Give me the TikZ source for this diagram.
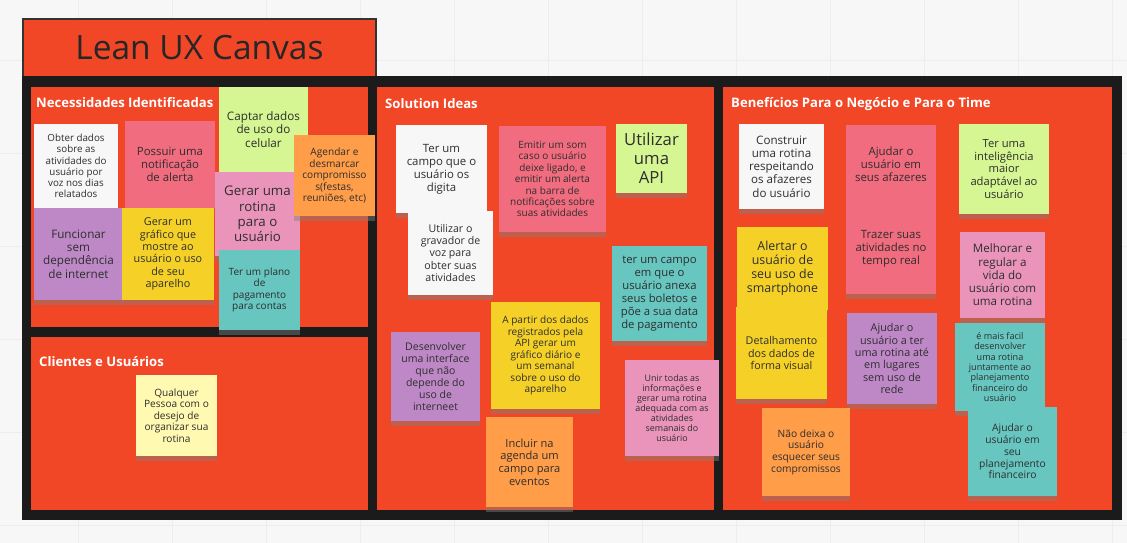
\documentclass[tikz,border=0pt]{standalone}
\usepackage{fontspec}
\setmainfont{Open Sans}
\usetikzlibrary{shadows}
\definecolor{miroRed}{HTML}{F24726}
\definecolor{frameDark}{HTML}{1B1B1B}
\definecolor{noteText}{HTML}{2E2E2E}
\definecolor{noteWhite}{HTML}{F7F7F7}
\definecolor{notePink}{HTML}{F16C7F}
\definecolor{noteRose}{HTML}{EA94BB}
\definecolor{noteViolet}{HTML}{BE88C7}
\definecolor{noteYellow}{HTML}{F5D128}
\definecolor{noteGreen}{HTML}{D5F692}
\definecolor{noteOrange}{HTML}{FF9D48}
\definecolor{noteTeal}{HTML}{67C6C0}
\definecolor{noteCream}{HTML}{FFF9B1}
\tikzset {
    fs/.style 2 args={font=\fontsize{#1}{#2}\selectfont},
    note/.style={
        rectangle, % sticky note
        draw=none,
        minimum width=88pt,
        minimum height=88pt,
        inner sep=2pt,
        align=center,
        text=noteText,
        fs={10}{11.5},
        drop shadow={shadow xshift=0pt, shadow yshift=-5pt, opacity=.45},
    },
    note white/.style={note, fill=noteWhite},
    note pink/.style={note, fill=notePink},
    note rose/.style={note, fill=noteRose},
    note violet/.style={note, fill=noteViolet},
    note yellow/.style={note, fill=noteYellow},
    note green/.style={note, fill=noteGreen},
    note orange/.style={note, fill=noteOrange},
    note teal/.style={note, fill=noteTeal},
    note cream/.style={note, fill=noteCream},
    panel/.style={
        rectangle,
        fill=miroRed,
        draw=none,
        anchor=north west,
        inner sep=0pt,
        outer sep=0pt,
    },
    panel title/.style={
        anchor=west,
        inner sep=0pt,
        text=white,
        font=\bfseries\fontsize{13.1}{15}\selectfont,
    },
    gridline/.style={draw=black!7, line width=.6pt},
}

\begin{document}
\begin{tikzpicture}[x=1pt, y=-1pt]
\useasboundingbox (0,0) rectangle (1127,543);
\fill[white!97!black] (0,0) rectangle (1127,543);
\foreach \gx in {78,172,...,1127} \draw[gridline] (\gx,0) -- (\gx,543);
\foreach \gy in {60,153,...,543} \draw[gridline] (0,\gy) -- (1127,\gy);

% title and frame
\node[panel, draw=black!80, line width=1.5pt, minimum width=353pt, minimum height=58pt, text=black!85, font=\fontsize{33.5}{38}\selectfont] (title) at (23,19) {Lean UX Canvas};
\node[panel, fill=frameDark, minimum width=1100pt, minimum height=444pt] (canvas) at (22,76) {};
\node[panel, minimum width=337pt, minimum height=240pt] (needs) at (31,87) {};
\node[panel, minimum width=337pt, minimum height=173pt] (clients) at (31,337) {};
\node[panel, minimum width=337pt, minimum height=423pt] (ideas) at (377,87) {};
\node[panel, minimum width=389pt, minimum height=423pt] (benefits) at (723,87) {};

\node[panel title] (needsTitle) at (36,103) {Necessidades Identificadas};
\node[panel title] (clientsTitle) at (39,362) {Clientes e Usuários};
\node[panel title] (ideasTitle) at (385,104) {Solution Ideas};
\node[panel title] (benefitsTitle) at (731,104) {Benefícios Para o Negócio e Para o Time};

% Necessidades Identificadas
\node[note white, minimum width=84pt, minimum height=84pt, fs={9.8}{11.2}] (obter) at (76,166) {Obter dados\\sobre as\\atividades do\\usuário por\\voz nos dias\\relatados};
\node[note pink, minimum width=90pt, minimum height=87pt, fs={11.4}{13}] (possuir) at (170,164.5) {Possuir uma\\notificação\\de alerta};
\node[note violet, minimum width=89pt, minimum height=92pt, fs={11.7}{13.3}] (funcionar) at (78.5,254) {Funcionar\\sem\\dependência\\de internet};
\node[note yellow, minimum width=92pt, minimum height=92pt, fs={10.8}{12.3}] (grafico) at (168,254) {Gerar um\\gráfico que\\mostre ao\\usuário o uso\\de seu\\aparelho};
\node[note green, minimum width=89pt, minimum height=85pt, fs={11.7}{13.3}] (captar) at (263.5,129.5) {Captar dados\\de uso do\\celular};
\node[note rose, minimum width=85pt, minimum height=84pt, fs={13.3}{15.2}] (rotina) at (257.5,214) {Gerar uma\\rotina\\para o\\usuário};
\node[note orange, minimum width=81pt, minimum height=81pt, fs={10.1}{11.5}] (agendar) at (334.5,175.5) {Agendar e\\desmarcar\\compromisso\\s(festas,\\reuniões, etc)};
\node[note teal, minimum width=81pt, minimum height=80pt, fs={10}{11.4}] (plano) at (259.5,290) {Ter um plano\\de\\pagamento\\para contas};

% Clientes e Usuarios
\node[note cream, minimum width=81pt, minimum height=81pt, fs={10.1}{11.5}] (qualquer) at (176.5,415.5) {Qualquer\\Pessoa com o\\desejo de\\organizar sua\\rotina};

% Solution Ideas
\node[note white, minimum width=91pt, minimum height=88pt, fs={11.4}{13}] (digita) at (441.5,169) {Ter um\\campo que o\\usuário os\\digita};
\node[note white, minimum width=85pt, minimum height=84pt, fs={10.6}{12.1}] (gravador) at (450.5,253) {Utilizar o\\gravador de\\voz para\\obter suas\\atividades};
\node[note pink, minimum width=107pt, minimum height=106pt, fs={10}{11.4}] (emitir) at (552.5,179) {Emitir um som\\caso o usuário\\deixe ligado, e\\emitir um alerta\\na barra de\\notificações sobre\\suas atividades};
\node[note green, minimum width=71pt, minimum height=69pt, fs={16.7}{19}] (api) at (651.5,158.5) {Utilizar\\uma\\API};
\node[note teal, minimum width=95pt, minimum height=95pt, fs={11.3}{12.9}] (boletos) at (659.5,293.5) {ter um campo\\em que o\\usuário anexa\\seus boletos e\\põe a sua data\\de pagamento};
\node[note yellow, minimum width=109pt, minimum height=107pt, fs={10.1}{11.5}] (apartir) at (545.5,355.5) {A partir dos dados\\registrados pela\\API gerar um\\gráfico diário e\\um semanal\\sobre o uso do\\aparelho};
\node[note violet, minimum width=89pt, minimum height=89pt, fs={10.5}{12}] (desenvolver) at (435.5,376.5) {Desenvolver\\uma interface\\que não\\depende do\\uso de\\interneet};
\node[note orange, minimum width=87pt, minimum height=90pt, fs={11.1}{12.7}] (incluir) at (529.5,462) {Incluir na\\agenda um\\campo para\\eventos};
\node[note rose, minimum width=94pt, minimum height=96pt, fs={8.9}{10.1}] (unir) at (672,408) {Unir todas as\\informações e\\gerar uma rotina\\adequada com as\\atividades\\semanais do\\usuário};

% Beneficios
\node[note white, minimum width=85pt, minimum height=85pt, fs={11.6}{13.2}] (construir) at (781.5,166.5) {Construir\\uma rotina\\respeitando\\os afazeres\\do usuário};
\node[note pink, minimum width=90pt, minimum height=79pt, fs={11.4}{13}] (afazeres) at (891,164.5) {Ajudar o\\usuário em\\seus afazeres};
\node[note pink, minimum width=90pt, minimum height=90pt, fs={11.4}{13}] (trazer) at (891,249) {Trazer suas\\atividades no\\tempo real};
\node[note green, minimum width=90pt, minimum height=90pt, fs={11.2}{12.8}] (inteligencia) at (1004,169) {Ter uma\\inteligência\\maior\\adaptável ao\\usuário};
\node[note rose, minimum width=85pt, minimum height=86pt, fs={11.6}{13.2}] (melhorar) at (1002.5,275) {Melhorar e\\regular a\\vida do\\usuário com\\uma rotina};
\node[note yellow, minimum width=91pt, minimum height=83pt, fs={12.4}{14.1}] (alertar) at (782.5,268.5) {Alertar o\\usuário de\\seu uso de\\smartphone};
\node[note yellow, minimum width=91pt, minimum height=92pt, fs={10.7}{12.2}] (detalhamento) at (781.5,353) {Detalhamento\\dos dados de\\forma visual};
\node[note violet, minimum width=90pt, minimum height=91pt, fs={10.8}{12.3}] (rede) at (892,358.5) {Ajudar o\\usuário a ter\\uma rotina até\\em lugares\\sem uso de\\rede};
\node[note orange, minimum width=88pt, minimum height=88pt, fs={10.2}{11.6}] (naodeixa) at (806,452) {Não deixa o\\usuário\\esquecer seus\\compromissos};
\node[note teal, minimum width=90pt, minimum height=88pt, fs={9.1}{10.4}] (maisfacil) at (1000,367) {é mais facil\\desenvolver\\uma rotina\\juntamente ao\\planejamento\\financeiro do\\usuário};
\node[note teal, minimum width=89pt, minimum height=89pt, fs={10.3}{11.7}] (financeiro) at (1012.5,451.5) {Ajudar o\\usuário em\\seu\\planejamento\\financeiro};
\end{tikzpicture}
\end{document}
